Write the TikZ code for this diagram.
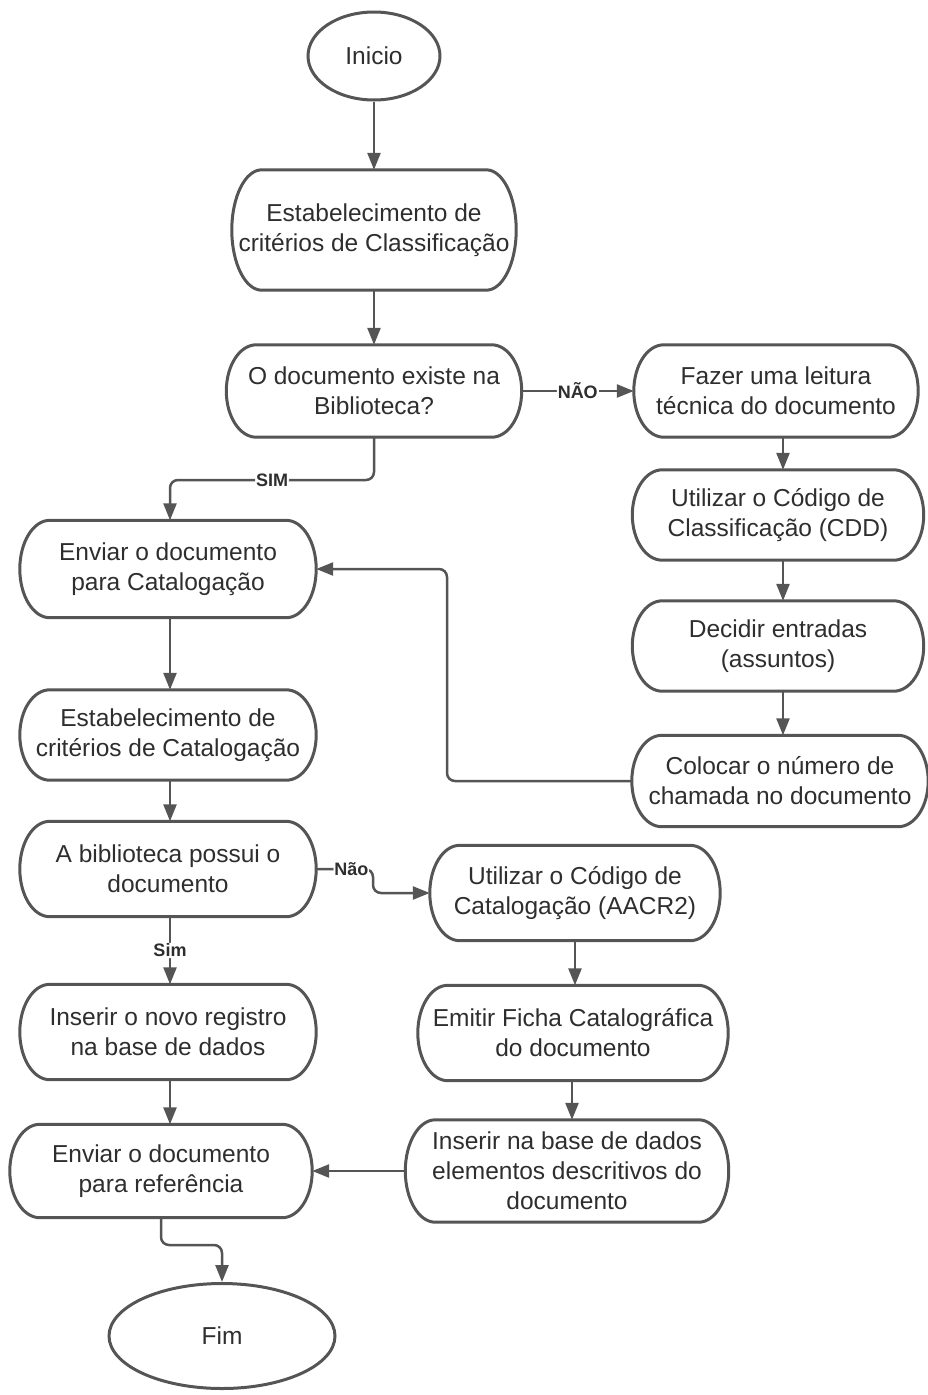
\documentclass[tikz,border=0pt]{standalone}
\usepackage{fontspec}
\setmainfont{Liberation Sans}
\usetikzlibrary{arrows.meta,shapes.geometric,calc}
\definecolor{edge}{HTML}{555555}
\definecolor{ink}{HTML}{2E2E2E}

% outline of a process box: straight top and bottom, elliptical ends
\newcommand\pilloutline[1]{%
  \draw[edge, line width=3pt]
    let \p1=(#1.north west), \p2=(#1.south east), \n1={(\y1-\y2)/2} in
    (\x1+30pt,\y1) -- (\x2-30pt,\y1)
    arc[start angle=90, end angle=-90, x radius=30pt, y radius=\n1]
    -- (\x1+30pt,\y2)
    arc[start angle=270, end angle=90, x radius=30pt, y radius=\n1]
    -- cycle;}

\begin{document}
\begin{tikzpicture}[x=1pt,y=-1pt,
  proc/.style={align=center, text=ink, font=\fontsize{24.5}{30}\selectfont,
    inner sep=0pt},
  term/.style={draw=edge, line width=3pt, ellipse, align=center,
    text=ink, font=\fontsize{24.5}{30}\selectfont, inner sep=0pt},
  flow/.style={draw=edge, line width=2.5pt, rounded corners=8pt,
    -{Triangle[length=17pt,width=13pt]}},
  lbl/.style={font=\bfseries\fontsize{18}{20}\selectfont, text=ink,
    fill=white, inner sep=1pt}]

\useasboundingbox (0,0) rectangle (928,1395);

% left column
\node[term, minimum width=132pt, minimum height=88pt] (ini) at (374,56) {Inicio};
\node[proc, minimum width=284pt, minimum height=120pt] (est1) at (374,230)
  {Estabelecimento de\\critérios de Classificação};
\node[proc, minimum width=295pt, minimum height=92pt] (q1) at (374,391)
  {O documento existe na\\Biblioteca?};
\node[proc, minimum width=296pt, minimum height=97pt] (env) at (168,569)
  {Enviar o documento\\para Catalogação};
\node[proc, minimum width=296pt, minimum height=90pt] (estc) at (168,735)
  {Estabelecimento de\\critérios de Catalogação};
\node[proc, minimum width=296pt, minimum height=95pt] (pos) at (168,869)
  {A biblioteca possui o\\documento};
\node[proc, minimum width=296pt, minimum height=95pt] (novo) at (168,1032)
  {Inserir o novo registro\\na base de dados};
\node[proc, minimum width=302pt, minimum height=93pt] (ref) at (161,1171)
  {Enviar o documento\\para referência};
\node[term, minimum width=226pt, minimum height=105pt] (fim) at (222,1336) {Fim};

% right column (classification)
\node[proc, minimum width=284pt, minimum height=92pt] (ler) at (776,391)
  {Fazer uma leitura\\técnica do documento};
\node[proc, minimum width=291pt, minimum height=90pt] (cdd) at (778,515)
  {Utilizar o Código de\\Classificação (CDD)};
\node[proc, minimum width=291pt, minimum height=90pt] (dec) at (778,646)
  {Decidir entradas\\(assuntos)};
\node[proc, minimum width=296pt, minimum height=91pt] (col) at (780,781)
  {Colocar o número de\\chamada no documento};

% middle column (cataloguing)
\node[proc, minimum width=290pt, minimum height=95pt] (aacr) at (575,893)
  {Utilizar o Código de\\Catalogação (AACR2)};
\node[proc, minimum width=310pt, minimum height=95pt] (emit) at (573,1033)
  {Emitir Ficha Catalográfica\\do documento};
\node[proc, minimum width=323pt, minimum height=102pt] (ins) at (567,1171)
  {Inserir na base de dados\\elementos descritivos do\\documento};

% box outlines
\foreach \b in {est1,q1,env,estc,pos,novo,ref,ler,cdd,dec,col,aacr,emit,ins}
  {\pilloutline{\b}}

% bend points
\coordinate (simA) at (374,480);
\coordinate (simB) at (170,480);
\coordinate (volta) at (447,781);
\coordinate (naoA) at (373,869);
\coordinate (naoB) at (373,893);
\coordinate (fimA) at (161,1245);
\coordinate (fimB) at (222,1245);

% connectors
\draw[flow] (ini) -- (est1);
\draw[flow] (est1) -- (q1);
\draw[flow] (q1) -- node[lbl]{NÃO} (ler);
\draw[flow] (q1.south) -- (simA) -- node[lbl, pos=0.5]{SIM} (simB) -- (simB |- env.north);
\draw[flow] (ler.south -| 783,0) -- (cdd.north -| 783,0);
\draw[flow] (cdd.south -| 783,0) -- (dec.north -| 783,0);
\draw[flow] (dec.south -| 783,0) -- (col.north -| 783,0);
\draw[flow] (col.west) -- (volta) -- (volta |- env.east) -- (env.east);
\draw[flow] (env.south -| 170,0) -- (estc.north -| 170,0);
\draw[flow] (estc.south -| 170,0) -- (pos.north -| 170,0);
\draw[flow] (pos.east) -- node[lbl, pos=0.62]{Não} (naoA) -- (naoB) -- (aacr.west);
\draw[flow] (pos.south -| 170,0) -- node[lbl]{Sim} (novo.north -| 170,0);
\draw[flow] (novo.south -| 170,0) -- (ref.north -| 170,0);
\draw[flow] (aacr.south -| 575,0) -- (emit.north -| 575,0);
\draw[flow] (emit.south -| 572,0) -- (ins.north -| 572,0);
\draw[flow] (ins.west) -- (ref.east);
\draw[flow] (ref.south) -- (fimA) -- (fimB) -- (fim.north);
\end{tikzpicture}
\end{document}
